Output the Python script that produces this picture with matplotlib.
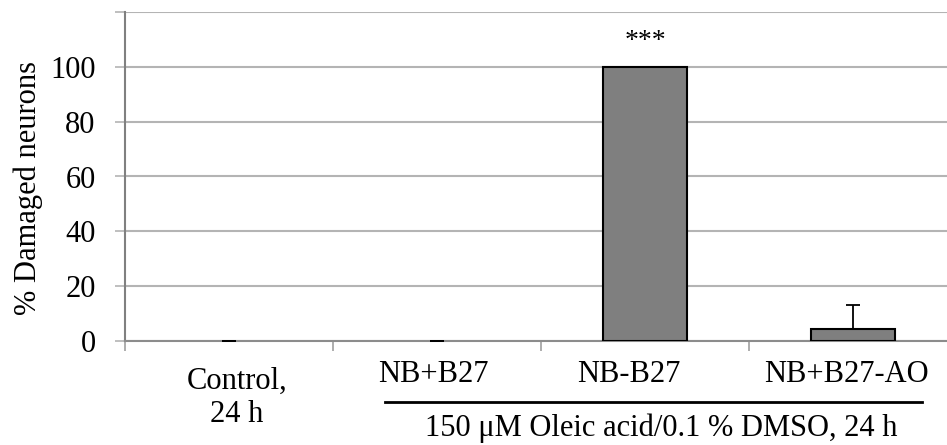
import numpy as np
import matplotlib
matplotlib.use("Agg")
import matplotlib.pyplot as plt
import matplotlib.transforms as mtransforms

#------------Data----------------------#
groups = ["Control,\n24 h", "NB+B27", "NB-B27", "NB+B27-AO"]
damaged = [0.0, 0.0, 100.0, 4.3]
err_up = [0.0, 0.0, 0.0, 9.0]
yticks = [0, 20, 40, 60, 80, 100, 120]
yticklabels = ["0", "20", "40", "60", "80", "100", ""]
signif = "***"
treatment = "150 \u03bcM Oleic acid/0.1 % DMSO, 24 h"

plt.rcParams["font.family"] = ["Liberation Serif", "DejaVu Serif"]
plt.rcParams["font.size"] = 22

#------------Figure----------------------#
W, H = 947, 445
fig = plt.figure(figsize=(W / 100, H / 100), dpi=100)
ax = fig.add_axes([125 / W, 104 / H, 832 / W, 329 / H])

x = np.arange(len(groups))
edges = ["black" if v > 0 else "none" for v in damaged]
ax.bar(x, damaged, width=0.4, color="#7f7f7f", edgecolor=edges, linewidth=1.5, zorder=3)
ax.errorbar(x, damaged, yerr=[np.zeros(len(err_up)), err_up], fmt="none",
            ecolor="black", elinewidth=1.3, capsize=5, capthick=1.3, zorder=4)

ax.set_xlim(-0.5, len(groups) - 0.5)
ax.set_ylim(0, 120)

# grid and axes
ax.set_yticks(yticks)
ax.set_yticklabels(yticklabels)
ax.yaxis.grid(True, color="#b4b4b4", linewidth=1.5, zorder=0)
ax.tick_params(axis="y", length=7.2, width=1.2, color="#b4b4b4", pad=14)
for s in ["top", "right"]:
    ax.spines[s].set_visible(False)
ax.spines["left"].set_color("#808080")
ax.spines["left"].set_linewidth(1.5)
ax.spines["bottom"].set_color("#8c8c8c")
ax.spines["bottom"].set_linewidth(1.5)

ax.set_xticks(x)
ax.set_xticklabels(groups, linespacing=1.2)
ax.tick_params(axis="x", length=0, pad=14)
ax.set_xticks(np.arange(len(groups) + 1) - 0.5, minor=True)
ax.tick_params(axis="x", which="minor", length=7.2, width=1.2, color="#a0a0a0")

# nudge category labels sideways / down
shifts = [(8, -6), (-4, 0), (-16, 0), (-7, 0)]
for lab, (dx, dy) in zip(ax.get_xticklabels(), shifts):
    lab.set_transform(lab.get_transform() + mtransforms.ScaledTranslation(dx / 100, dy / 100, fig.dpi_scale_trans))

# significance mark
ax.annotate(signif, (x[2], damaged[2]), xytext=(0, 9), textcoords="offset points",
            ha="center", va="bottom", fontsize=20)

# treatment bracket
trans = mtransforms.blended_transform_factory(ax.transData, ax.transAxes)
ax.plot([0.75, 3.33], [-0.185, -0.185], color="black", linewidth=2, transform=trans, clip_on=False)
ax.text(2.08, -0.290, treatment, transform=trans, ha="center", va="baseline")

fig.text(28 / W, 1 - 188 / H, "% Damaged neurons", rotation=90, ha="center", va="center")

fig.savefig("out.png", dpi=100)
